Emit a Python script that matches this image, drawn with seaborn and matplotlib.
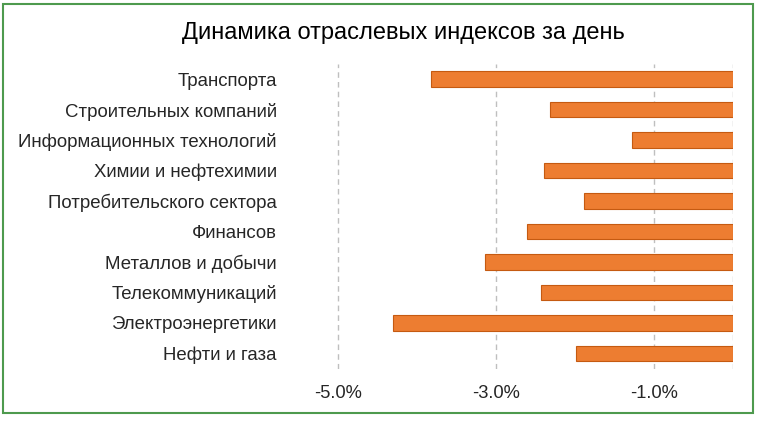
import pandas as pd
import numpy as np
import matplotlib
matplotlib.use("Agg")
import matplotlib.pyplot as plt
import matplotlib.patches as patches
import seaborn as sns

# sector names and daily change, %
sectors = ['Транспорта', 'Строительных компаний', 'Информационных технологий',
           'Химии и нефтехимии', 'Потребительского сектора', 'Финансов',
           'Металлов и добычи', 'Телекоммуникаций', 'Электроэнергетики',
           'Нефти и газа']
changes = [-3.82, -2.32, -1.28, -2.40, -1.89, -2.61, -3.14, -2.43, -4.30, -1.99]
tick_values = [-5.0, -3.0, -1.0]
tick_labels = ['-5.0%', '-3.0%', '-1.0%']

data = pd.DataFrame({'sector': sectors, 'change': changes})

sns.set_style('white')
plt.rcParams['font.family'] = ['Liberation Sans', 'DejaVu Sans']

fig = plt.figure(figsize=(7.58, 4.22), dpi=100)
ax = fig.add_axes([0.376, 0.1262, 0.5914, 0.7227])

sns.barplot(data=data, x='change', y='sector', orient='h', color='#ED7D31',
            saturation=1, width=0.52, edgecolor='#C55A11', linewidth=0.8, ax=ax)

ax.set_xlim(-5.67, 0)
ax.set_ylim(9.5, -0.5)
ax.set_xticks(tick_values)
ax.set_xticklabels(tick_labels)
for v in tick_values + [0]:
    ax.axvline(v, color='#BFBFBF', linestyle=(0, (4, 3)), linewidth=1, zorder=0)

ax.set_xlabel('')
ax.set_ylabel('')
for s in ax.spines.values():
    s.set_visible(False)
ax.tick_params(axis='both', length=0, labelcolor='#262626')
ax.tick_params(axis='y', pad=6, labelsize=13.4)
ax.tick_params(axis='x', pad=12, labelsize=13.2)

fig.text(0.532, 0.922, 'Динамика отраслевых индексов за день', ha='center',
         va='center', fontsize=17, color='#000000')

# green frame around the chart
fig.patches.append(patches.Rectangle((3 / 758, 9 / 422), 750 / 758, 409 / 422,
                                     transform=fig.transFigure, fill=False,
                                     edgecolor='#4E9A4E', linewidth=1.5))

fig.savefig('out.png', dpi=100)
